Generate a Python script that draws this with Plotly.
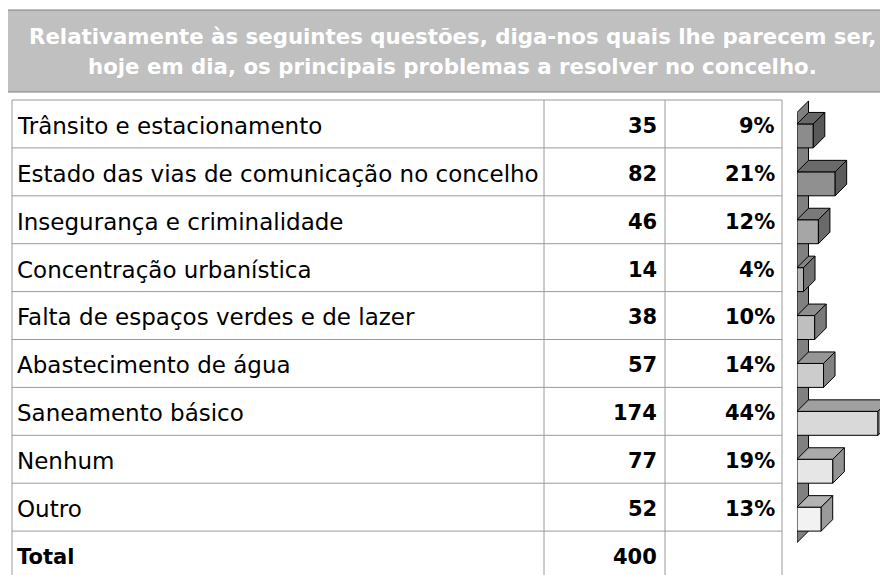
import plotly.graph_objects as go

# ---------------- data ----------------
title_lines = [
    "Relativamente às seguintes questões, diga-nos quais lhe parecem ser,",
    "hoje em dia, os principais problemas a resolver no concelho.",
]
categories = [
    "Trânsito e estacionamento",
    "Estado das vias de comunicação no concelho",
    "Insegurança e criminalidade",
    "Concentração urbanística",
    "Falta de espaços verdes e de lazer",
    "Abastecimento de água",
    "Saneamento básico",
    "Nenhum",
    "Outro",
]
counts = [35, 82, 46, 14, 38, 57, 174, 77, 52]
percents = [9, 21, 12, 4, 10, 14, 44, 19, 13]
total_label = "Total"
total_count = 400
bar_colors = ["#8c8c8c", "#909090", "#a6a6a6", "#b3b3b3", "#bfbfbf",
              "#cccccc", "#d9d9d9", "#e6e6e6", "#f2f2f2"]

# ---------------- geometry (reference-page pixels) ----------------
PAGE_W, PAGE_H = 888, 575
OX, OY = 8, 8                      # browser body margin
W, H = PAGE_W - OX, PAGE_H - OY    # figure size
TABLE_TOP = 100
RH = 47.9                          # row height in px
DOMAIN_TOP_PX = 94
BAR_LEFT_PX = 797
PX_PER_UNIT = 0.4655
DEPTH_PX = 11.5

FONT = "DejaVu Sans"
LABEL_SIZE = 23
NUM_SIZE = 21
HEAD_SIZE = 21.3


def px(x):
    return (x - OX) / W


def py(y):
    return 1 - (y - OY) / H


y_top = -0.5 - (TABLE_TOP - DOMAIN_TOP_PX) / RH
y_bot = y_top + (PAGE_H - DOMAIN_TOP_PX) / RH
x_max = (PAGE_W - BAR_LEFT_PX) / PX_PER_UNIT
dx = DEPTH_PX / PX_PER_UNIT
dy = DEPTH_PX / RH


def shade(hexcol, f):
    r, g, b = (int(hexcol[i:i + 2], 16) for i in (1, 3, 5))
    return "#%02x%02x%02x" % (int(r * f), int(g * f), int(b * f))


n = len(categories)
rows = list(range(n))

fig = go.Figure()
fig.add_trace(go.Bar(
    x=counts, y=rows, orientation="h", base=0, width=0.5, offset=0,
    marker=dict(color=bar_colors, line=dict(color="black", width=1)),
    hoverinfo="skip", showlegend=False,
))

shapes = []
GRID = "#9a9a9a"
OUTER = "#808080"

# header box
shapes.append(dict(type="rect", xref="paper", yref="paper",
                   x0=px(7), x1=px(PAGE_W + 5), y0=py(92), y1=py(10),
                   fillcolor="#c0c0c0", line=dict(color=OUTER, width=1), layer="below"))
# outer left border
shapes.append(dict(type="line", xref="paper", yref="paper",
                   x0=px(7), x1=px(7), y0=py(10), y1=py(PAGE_H + 5),
                   line=dict(color=OUTER, width=1)))
# table horizontal lines
for i in range(n + 2):
    shapes.append(dict(type="line", xref="paper", yref="y",
                       x0=px(12), x1=px(782), y0=i - 0.5, y1=i - 0.5,
                       line=dict(color=GRID, width=1)))
# table vertical lines
for xv in (12, 544, 665, 782):
    shapes.append(dict(type="line", xref="paper", yref="y",
                       x0=px(xv), x1=px(xv), y0=-0.5, y1=n + 0.5,
                       line=dict(color=GRID, width=1)))

# 3D wall
wall = "M 0 %f L %f %f L %f %f L 0 %f Z" % (-dy, dx, -2 * dy, dx, n - 0.5, n - 0.5 + dy)
shapes.append(dict(type="path", xref="x", yref="y", path=wall,
                   fillcolor="#808080", line=dict(color="black", width=1), layer="below"))

# 3D faces of bars
for i, (v, c) in enumerate(zip(counts, bar_colors)):
    top = "M 0 %f L %f %f L %f %f L %f %f Z" % (i, v, i, v + dx, i - dy, dx, i - dy)
    side = "M %f %f L %f %f L %f %f L %f %f Z" % (v, i, v + dx, i - dy, v + dx, i + 0.5 - dy, v, i + 0.5)
    shapes.append(dict(type="path", xref="x", yref="y", path=top,
                       fillcolor=shade(c, 0.74), line=dict(color="black", width=1)))
    shapes.append(dict(type="path", xref="x", yref="y", path=side,
                       fillcolor=shade(c, 0.64), line=dict(color="black", width=1)))

annotations = []
for k, line in enumerate(title_lines):
    annotations.append(dict(xref="paper", yref="paper", x=px(452), y=py(36 + 30 * k),
                            text="<b>%s</b>" % line, showarrow=False,
                            xanchor="center", yanchor="middle",
                            font=dict(family=FONT, size=HEAD_SIZE, color="white")))
for i in rows:
    annotations.append(dict(xref="paper", yref="y", x=px(15), y=i + 0.04, text=categories[i],
                            showarrow=False, xanchor="left", yanchor="middle",
                            font=dict(family=FONT, size=LABEL_SIZE, color="black")))
    annotations.append(dict(xref="paper", yref="y", x=px(659), y=i + 0.04, text="<b>%d</b>" % counts[i],
                            showarrow=False, xanchor="right", yanchor="middle",
                            font=dict(family=FONT, size=NUM_SIZE, color="black")))
    annotations.append(dict(xref="paper", yref="y", x=px(777), y=i + 0.04, text="<b>%d%%</b>" % percents[i],
                            showarrow=False, xanchor="right", yanchor="middle",
                            font=dict(family=FONT, size=NUM_SIZE, color="black")))
annotations.append(dict(xref="paper", yref="y", x=px(15), y=n + 0.04, text="<b>%s</b>" % total_label,
                        showarrow=False, xanchor="left", yanchor="middle",
                        font=dict(family=FONT, size=NUM_SIZE, color="black")))
annotations.append(dict(xref="paper", yref="y", x=px(659), y=n + 0.04, text="<b>%d</b>" % total_count,
                        showarrow=False, xanchor="right", yanchor="middle",
                        font=dict(family=FONT, size=NUM_SIZE, color="black")))

fig.update_layout(
    width=W, height=H, margin=dict(l=0, r=0, t=0, b=0),
    paper_bgcolor="white", plot_bgcolor="rgba(0,0,0,0)",
    shapes=shapes, annotations=annotations, showlegend=False,
    xaxis=dict(domain=[px(BAR_LEFT_PX), 1], range=[0, x_max], visible=False, fixedrange=True),
    yaxis=dict(domain=[0, py(DOMAIN_TOP_PX)], range=[y_bot, y_top], visible=False, fixedrange=True),
)

fig.write_html("out.html")
